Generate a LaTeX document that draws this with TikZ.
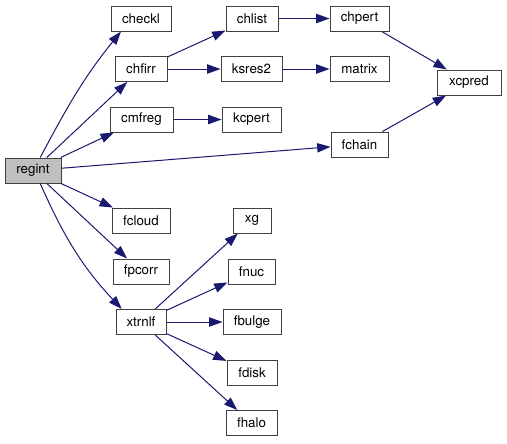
\documentclass[tikz,border=0pt]{standalone}
\usepackage{fontspec}
\setmainfont{TeX Gyre Heros}
\usetikzlibrary{arrows.meta}
\definecolor{edgeblue}{HTML}{191970}

\begin{document}
\begin{tikzpicture}[x=0.75pt,y=0.75pt,
  fn/.style={draw=black!75,line width=0.75pt,fill=white,inner sep=0pt,
    minimum height=18.75pt,font=\fontsize{10}{12}\selectfont},
  call/.style={edgeblue,line width=0.75pt,-{Triangle[length=10pt,width=7pt]}}]
\useasboundingbox (0,0) rectangle (507,-443);
\node[fn,fill=black!25,minimum width=42pt] (regint) at (33,-170.5) {regint};
\foreach \n/\x/\y/\w in {checkl/141/18.5/60, chfirr/141/69/52, cmfreg/141.5/119.5/63,
fcloud/141/220.5/58, fpcorr/141/271.5/56, xtrnlf/141/322/50, chlist/252/18.5/52,
ksres2/251.5/69/61, kcpert/251.5/119.5/59, xg/252/220.5/38, fnuc/251.5/271.5/47,
fbulge/252/322/58, fdisk/252/372.5/50, fhalo/251.5/423/51, chpert/359.5/18.5/59,
matrix/359.5/69/59, fchain/359.5/144.5/57, xcpred/469/82.5/64}
  \node[fn,minimum width=\w*0.75pt] (\n) at (\x,-\y) {\n};
\foreach \a/\b in {regint/chfirr, regint/cmfreg, regint/fchain, regint/fcloud,
regint/fpcorr, chfirr/chlist, chfirr/ksres2, cmfreg/kcpert, chlist/chpert,
ksres2/matrix, chpert/xcpred, fchain/xcpred, xtrnlf/xg, xtrnlf/fnuc,
xtrnlf/fbulge, xtrnlf/fdisk, xtrnlf/fhalo}
  \draw[call] (\a) -- (\b);
\draw[call] (regint.61) to[out=62,in=231] (checkl.213);
\draw[call] (regint.-61) to[out=-66,in=133] (xtrnlf.146);
\end{tikzpicture}
\end{document}
